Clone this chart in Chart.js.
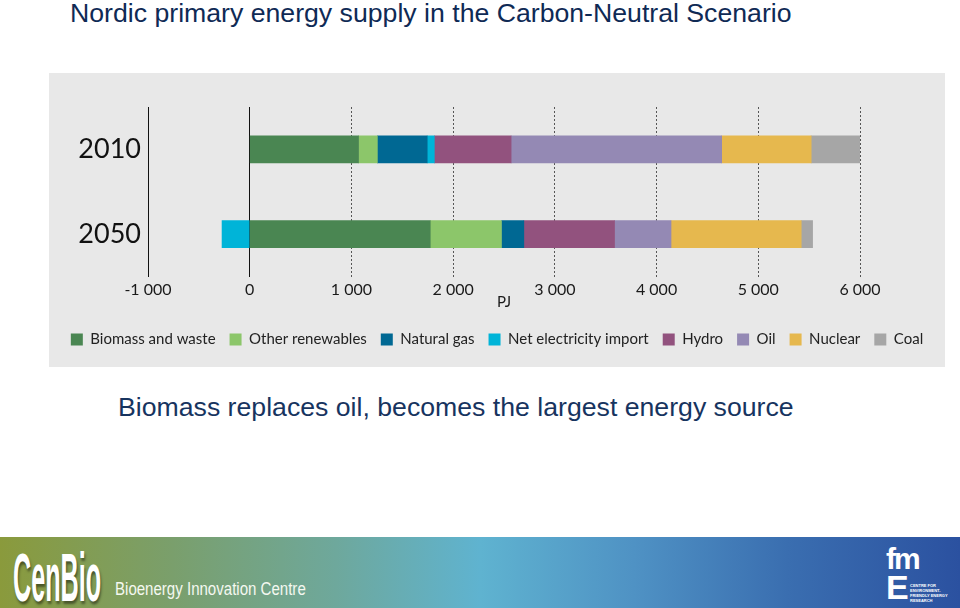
<!DOCTYPE html>
<html>
<head>
<meta charset="utf-8">
<script src="https://cdn.jsdelivr.net/npm/chart.js@4.4.0/dist/chart.umd.min.js"></script>
<style>
  html, body { margin:0; padding:0; background:#ffffff; }
  body { width:960px; height:608px; position:relative; overflow:hidden; font-family:"Liberation Sans", Arial, sans-serif; }
  #title { position:absolute; left:70px; top:-2px; font-size:26.67px; color:#0f2a55; white-space:nowrap; line-height:30px; }
  #panel { position:absolute; left:49px; top:73px; width:896px; height:294px; background:#e8e8e8; }
  #sub { position:absolute; left:118px; top:392px; font-size:26.67px; color:#17345f; white-space:nowrap; line-height:30px; }
  #footer { position:absolute; left:0; top:537px; width:960px; height:71px;
    background:linear-gradient(to right, #8a9a3c 0%, #7a9f6c 18%, #6ea89c 35%, #5fb3d0 50%, #4f92c4 66%, #3a6eb0 82%, #2b51a0 100%); }
  .sx { position:absolute; white-space:nowrap; transform-origin:left top; color:#fff; }
  #cen { left:13px; top:538.5px; font-size:68px; font-weight:bold; line-height:76px; transform:scaleX(0.37); text-shadow:3px 3px 4px rgba(0,0,0,0.45); }
  #bic { left:115px; top:578px; font-size:17.5px; line-height:22px; transform:scaleX(0.86); color:#f4f8f0; }
  #fm { left:886px; top:543px; font-size:30px; font-weight:bold; line-height:32px; letter-spacing:-2px; }
  #fe { left:886px; top:569px; font-size:34px; font-weight:bold; line-height:36px; }
  #ft { left:910px; top:583px; font-size:4px; line-height:5px; font-weight:bold; }
</style>
</head>
<body>
<div id="title">Nordic primary energy supply in the Carbon-Neutral Scenario</div>
<div id="panel"><canvas id="c" width="896" height="294"></canvas></div>
<div id="sub">Biomass replaces oil, becomes the largest energy source</div>
<div id="footer"></div>
<div id="cen" class="sx">CenBio</div>
<div id="bic" class="sx">Bioenergy Innovation Centre</div>
<div id="fm" class="sx">fm</div>
<div id="fe" class="sx">E</div>
<div id="ft" class="sx">CENTRE FOR<br>ENVIRONMENT-<br>FRIENDLY ENERGY<br>RESEARCH</div>
<script>
const categories = ['2010', '2050'];
const seriesNames = ['Biomass and waste', 'Other renewables', 'Natural gas', 'Net electricity import', 'Hydro', 'Oil', 'Nuclear', 'Coal'];
const biomass = [1070, 1775];
const otherRenewables = [185, 700];
const naturalGas = [490, 220];
const netImport = [70, -272];
const hydro = [755, 892];
const oil = [2070, 555];
const nuclear = [880, 1280];
const coal = [590, 112];
const tickLabels = ['-1 000', '0', '1 000', '2 000', '3 000', '4 000', '5 000', '6 000'];
const colors = ['#4a8652', '#8cc66a', '#006893', '#00b4d8', '#92527e', '#9489b4', '#e6b84e', '#a6a6a6'];
const seriesValues = [biomass, otherRenewables, naturalGas, netImport, hydro, oil, nuclear, coal];

const datasets = seriesNames.map((n, i) => ({
  label: n, data: seriesValues[i], backgroundColor: colors[i], borderWidth: 0, barThickness: 27
}));

new Chart(document.getElementById('c'), {
  type: 'bar',
  data: { labels: categories, datasets },
  options: {
    responsive: false,
    animation: false,
    indexAxis: 'y',
    layout: { padding: { top: 34, right: 0, bottom: 10, left: 0 } },
    plugins: {
      tooltip: { enabled: false },
      legend: {
        position: 'bottom',
        labels: { boxWidth: 12, boxHeight: 12, padding: 14, color: '#222', font: { family: 'Lato', size: 15 } }
      }
    },
    scales: {
      x: {
        stacked: true, min: -1000, max: 6000,
        ticks: { stepSize: 1000, padding: 4, color: '#1a1a1a', font: { family: 'Lato', size: 16 },
          callback: (v, i) => tickLabels[i] },
        grid: { drawTicks: false, lineWidth: 1,
          color: ctx => (ctx.tick && ctx.tick.value > 0) ? '#555555' : '#111111' },
        border: { display: false, dash: ctx => (ctx.tick && ctx.tick.value > 0) ? [2, 2] : [] },
        title: { display: true, text: 'PJ', color: '#1a1a1a', font: { family: 'Lato', size: 15 }, padding: { top: 0, bottom: 7 } },
        afterFit: s => { s.height = 41.5; }
      },
      y: {
        stacked: true,
        grid: { display: false, drawTicks: false },
        border: { display: false },
        ticks: { padding: 7, color: '#111', font: { family: 'Lato', size: 27 } },
        afterFit: s => { s.width = 99; }
      },
      yRight: {
        type: 'category', position: 'right', display: true,
        grid: { display: false, drawTicks: false },
        border: { display: false },
        ticks: { display: false },
        afterFit: s => { s.width = 85; }
      }
    }
  }
});
</script>
</body>
</html>
